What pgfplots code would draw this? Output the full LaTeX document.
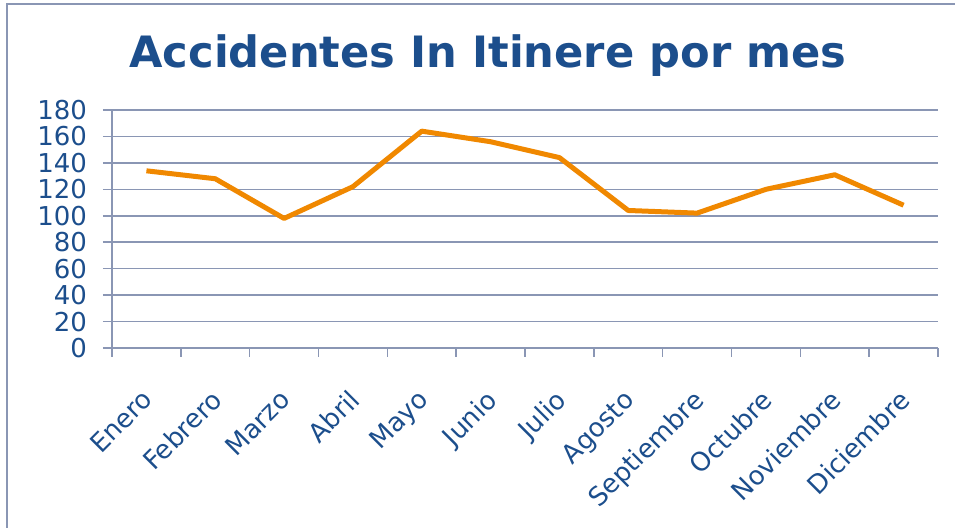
\documentclass[border=0pt]{standalone}
\usepackage{pgfplots}
\pgfplotsset{compat=1.18}
\usepackage{fontspec}
\setmainfont{DejaVu Sans}
\definecolor{lineor}{RGB}{240,136,0}
\definecolor{txtblue}{RGB}{28,78,140}
\definecolor{gridc}{RGB}{138,150,180}
\pgfplotstableread{
x y
0 134
1 128
2 98
3 122
4 164
5 156
6 144
7 104
8 102
9 120
10 131
11 108
}\accdata
\begin{document}
\begin{tikzpicture}
\useasboundingbox (0,0) rectangle (477.5pt,264pt);
\draw[gridc, line width=1pt] (3.5pt,-5pt) -- (3.5pt,262pt) -- (485pt,262pt);
\node[txtblue, font=\bfseries\fontsize{21.6}{25}\selectfont, anchor=base] at (244pt,230pt) {Accidentes In Itinere por mes};
\begin{axis}[
  at={(56pt,90pt)}, anchor=south west,
  scale only axis, width=413pt, height=119pt,
  xmin=-0.5, xmax=11.5, ymin=0, ymax=180,
  ytick={0,20,...,180},
  xtick={0,...,11},
  xticklabels={Enero,Febrero,Marzo,Abril,Mayo,Junio,Julio,Agosto,Septiembre,Octubre,Noviembre,Diciembre},
  minor xtick={-0.5,0.5,...,11.5},
  axis lines*=left,
  ymajorgrids,
  grid style={gridc, line width=0.75pt},
  axis line style={gridc, line width=0.75pt},
  tick style={gridc, line width=0.75pt},
  major x tick style={draw=none},
  tick align=outside, major tick length=4.5pt, minor tick length=4.5pt,
  y tick label style={txtblue, font=\fontsize{13}{15}\selectfont, xshift=-4.5pt},
  x tick label style={txtblue, font=\fontsize{13}{15}\selectfont, rotate=45, anchor=north east, xshift=-9.5pt, yshift=-5.5pt},
  /pgf/number format/assume math mode=true,
  clip=false,
]
\addplot[lineor, line width=2.5pt, line join=round] table[x=x,y=y] {\accdata};
\end{axis}
\end{tikzpicture}
\end{document}
